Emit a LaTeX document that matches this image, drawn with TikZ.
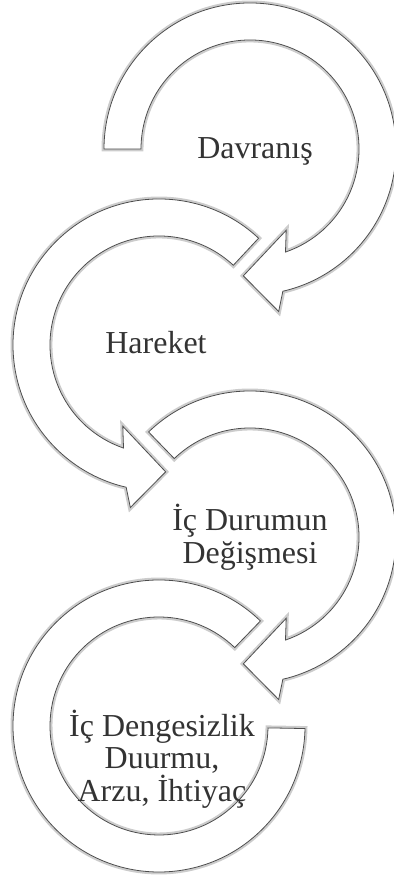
\documentclass[tikz,border=0pt]{standalone}
\usepackage{fontspec}
\setmainfont{Liberation Serif}
\usetikzlibrary{positioning}

\begin{document}
\begin{tikzpicture}[
        x=0.02cm, y=0.02cm,
        band/.style={fill=white, draw=black!70, line width=0.45pt, preaction={draw=black!20, line width=2.8pt}},
        caption/.style={align=center, text=black!80, font=\fontsize{18.2}{18.6}\selectfont}
    ]
    \useasboundingbox (0,0) rectangle (394,884);

    % Circle centres
    \coordinate (c1) at (250,735);
    \coordinate (c2) at (159,539);
    \coordinate (c3) at (250,347);
    \coordinate (c4) at (159,158);

    % Arrow 1 - clockwise
    \begin{scope}[shift={(c1)}]
        \draw[band] (180:146) arc[start angle=180, end angle=-77, radius=146] -- (-80:165) -- (-93:127) -- (-66:89) -- (-71:109) arc[start angle=-71, end angle=180, radius=109] -- cycle;
    \end{scope}

    % Arrow 2 - counter clockwise
    \begin{scope}[shift={(c2)}]
        \draw[band] (47:146) arc[start angle=47, end angle=257, radius=146] -- (260:165) -- (273:127) -- (246:89) -- (251:109) arc[start angle=251, end angle=47, radius=109] -- cycle;
    \end{scope}

    % Arrow 3 - clockwise
    \begin{scope}[shift={(c3)}]
        \draw[band] (134:146) arc[start angle=134, end angle=-77, radius=146] -- (-80:165) -- (-93:127) -- (-66:89) -- (-71:109) arc[start angle=-71, end angle=134, radius=109] -- cycle;
    \end{scope}

    % Arrow 4 - open ring
    \begin{scope}[shift={(c4)}]
        \draw[band] (46:146) arc[start angle=46, end angle=359, radius=146] -- (359:109) arc[start angle=359, end angle=46, radius=109] -- cycle;
    \end{scope}

    % Labels
    \node[caption] (davranis) at (255,733) {Davranış};
    \node[caption] (hareket)  at (156,541) {Hareket};
    \node[caption] (degisme)  at (250,347) {İç Durumun\\Değişmesi};
    \node[caption] (denge)    at (162,125) {İç Dengesizlik\\Duurmu,\\Arzu, İhtiyaç};

\end{tikzpicture}
\end{document}
